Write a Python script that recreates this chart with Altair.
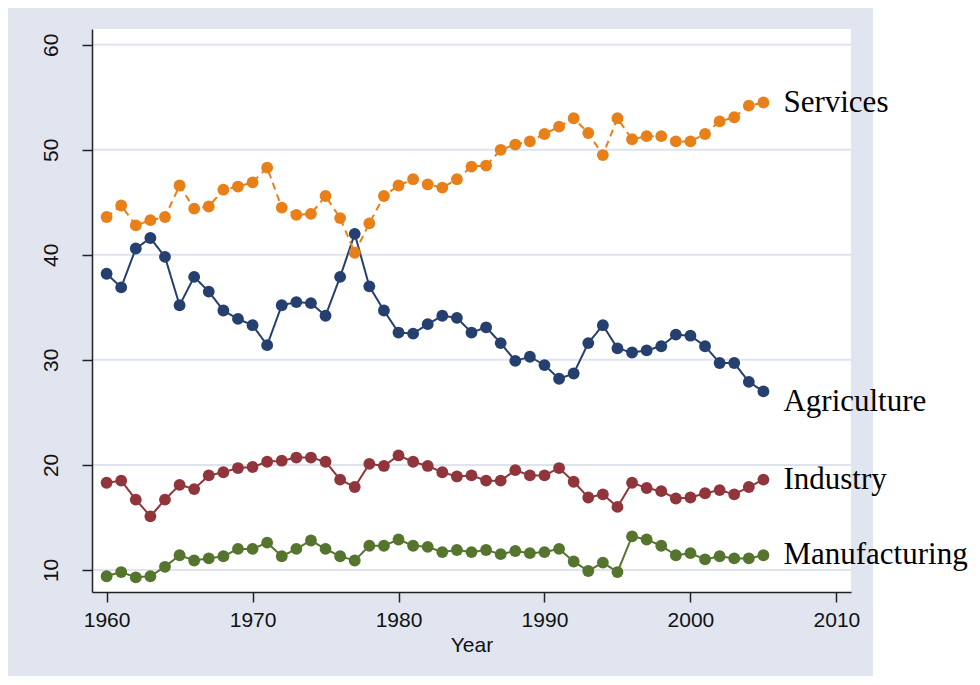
import altair as alt
import pandas as pd

years = list(range(1960, 2006))
agriculture = [38.2, 36.9, 40.6, 41.6, 39.8, 35.2, 37.9, 36.5, 34.7, 33.9,
               33.3, 31.4, 35.2, 35.5, 35.4, 34.2, 37.9, 42.0, 37.0, 34.7,
               32.6, 32.5, 33.4, 34.2, 34.0, 32.6, 33.1, 31.6, 29.9, 30.3,
               29.5, 28.2, 28.7, 31.6, 33.3, 31.1, 30.7, 30.9, 31.3, 32.4,
               32.3, 31.3, 29.7, 29.7, 27.9, 27.0]
industry = [18.3, 18.5, 16.7, 15.1, 16.7, 18.1, 17.7, 19.0, 19.3, 19.7,
            19.8, 20.3, 20.4, 20.7, 20.7, 20.3, 18.6, 17.9, 20.1, 19.9,
            20.9, 20.3, 19.9, 19.3, 18.9, 19.0, 18.5, 18.5, 19.5, 19.0,
            19.0, 19.7, 18.4, 16.9, 17.2, 16.0, 18.3, 17.8, 17.5, 16.8,
            16.9, 17.3, 17.6, 17.2, 17.9, 18.6]
manufacturing = [9.4, 9.8, 9.3, 9.4, 10.3, 11.4, 10.9, 11.1, 11.3, 12.0,
                 12.0, 12.6, 11.3, 12.0, 12.8, 12.0, 11.3, 10.9, 12.3, 12.3,
                 12.9, 12.3, 12.2, 11.7, 11.9, 11.7, 11.9, 11.5, 11.8, 11.6,
                 11.7, 12.0, 10.8, 9.9, 10.7, 9.8, 13.2, 12.9, 12.3, 11.4,
                 11.6, 11.0, 11.3, 11.1, 11.1, 11.4]
services = [43.6, 44.7, 42.8, 43.3, 43.6, 46.6, 44.4, 44.6, 46.2, 46.5,
            46.9, 48.3, 44.5, 43.8, 43.9, 45.6, 43.5, 40.2, 43.0, 45.6,
            46.6, 47.2, 46.7, 46.4, 47.2, 48.4, 48.5, 50.0, 50.5, 50.8,
            51.5, 52.2, 53.0, 51.6, 49.5, 53.0, 51.0, 51.3, 51.3, 50.8,
            50.8, 51.5, 52.7, 53.1, 54.2, 54.5]

series_names = ["Agriculture", "Industry", "Manufacturing", "Services"]
series_colors = ["#253F6E", "#90353B", "#55752F", "#E8801A"]
series_dashes = [[1, 0], [1, 0], [1, 0], [7, 5]]
y_ticks = [10, 20, 30, 40, 50, 60]
x_ticks = [1960, 1970, 1980, 1990, 2000, 2010]

rows = []
for name, vals in zip(series_names, [agriculture, industry, manufacturing, services]):
    for yr, v in zip(years, vals):
        rows.append({"Year": yr, "Share": v, "Sector": name})
df = pd.DataFrame(rows)
last = df[df["Year"] == years[-1]]
grid_df = pd.DataFrame({"Year": [x_ticks[0]] * len(y_ticks), "Share": y_ticks})

W, H = 759, 563
xscale = alt.Scale(domain=[1959.0, 2011.0], nice=False, zero=False)
yscale = alt.Scale(domain=[7.9, 61.5], nice=False, zero=False)
cscale = alt.Scale(domain=series_names, range=series_colors)
dscale = alt.Scale(domain=series_names, range=series_dashes)

xaxis = alt.Axis(values=x_ticks, title="Year", grid=False, zindex=1, format="d",
                 tickSize=10, labelPadding=7, titlePadding=4)
yaxis = alt.Axis(values=y_ticks, title=None, grid=False, zindex=1,
                 labelAngle=270, tickSize=10, labelPadding=21)

X = alt.X("Year:Q", scale=xscale, axis=xaxis)
Y = alt.Y("Share:Q", scale=yscale, axis=yaxis)

one = pd.DataFrame({"k": [0]})

panel = alt.Chart(one).mark_rect(color="#E0E5F0", clip=False).encode(
    x=alt.value(-90), x2=alt.value(781), y=alt.value(-30), y2=alt.value(700)
)
plotbg = alt.Chart(one).mark_rect(color="white").encode(
    x=alt.value(0), x2=alt.value(W), y=alt.value(0), y2=alt.value(H)
)
grid = alt.Chart(grid_df).mark_rule(color="#DEE3EE", strokeWidth=2).encode(
    y=Y, x=alt.value(0), x2=alt.value(W)
)

base = alt.Chart(df).encode(
    x=X, y=Y,
    color=alt.Color("Sector:N", scale=cscale, legend=None),
)
lines = base.mark_line(strokeWidth=2).encode(
    strokeDash=alt.StrokeDash("Sector:N", scale=dscale, legend=None)
)
points = base.mark_circle(size=140, opacity=1)

label_main = alt.Chart(last).transform_filter(
    alt.datum.Sector != "Agriculture"
).mark_text(align="left", baseline="middle", dx=20, font="Liberation Serif",
            fontSize=31, color="black", clip=False).encode(
    x=X, y=Y, text="Sector:N"
)
label_agri = alt.Chart(last).transform_filter(
    alt.datum.Sector == "Agriculture"
).mark_text(align="left", baseline="middle", dx=20, dy=11, font="Liberation Serif",
            fontSize=31, color="black", clip=False).encode(
    x=X, y=Y, text="Sector:N"
)

chart = alt.layer(panel, plotbg, grid, lines, points, label_main, label_agri).properties(
    width=W, height=H,
    autosize=alt.AutoSizeParams(type="none"),
    padding={"left": 84, "top": 21, "right": 121, "bottom": 84},
    background="white",
).configure_view(stroke=None, fill=None).configure_axis(
    domainColor="#222222", domainWidth=1.5, tickColor="#222222", tickWidth=1.5,
    labelFont="Liberation Sans", labelFontSize=21, labelColor="#111111",
    titleFont="Liberation Sans", titleFontSize=21, titleColor="#111111",
    titleFontWeight="normal", labelFlush=False, labelOverlap=False,
)

chart.save("out.html", embed_options={"renderer": "svg", "actions": False})
